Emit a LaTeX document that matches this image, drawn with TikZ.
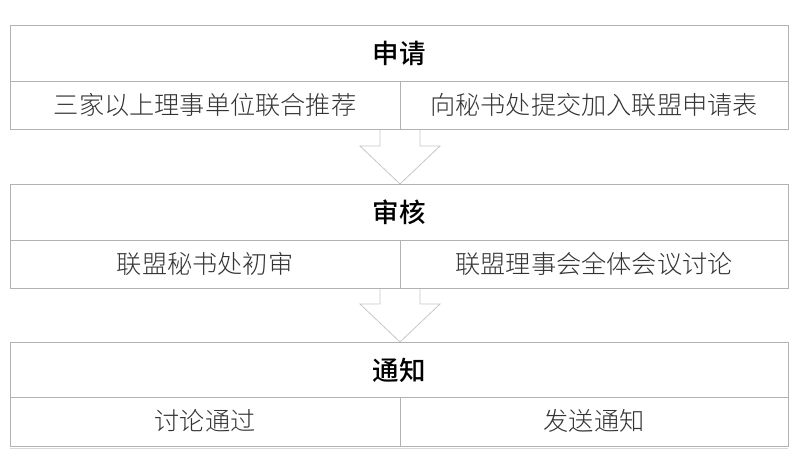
\documentclass[tikz,border=0pt]{standalone}
\usepackage{fontspec}
\newfontfamily\cjk{Noto Sans CJK SC Medium}
\newfontfamily\cjklight{Noto Sans CJK SC Light}
\begin{document}
\begin{tikzpicture}[x=1pt,y=-1pt,
  box/.style={draw=black!30,line width=1pt},
  hdr/.style={font=\cjk\fontsize{26.5}{26.5}\selectfont,text=black},
  itm/.style={font=\cjklight\fontsize{25.2}{25.2}\selectfont,text=black!80},
  arr/.style={draw=black!22,line width=0.8pt,fill=white}]
\useasboundingbox (0,0) rectangle (797,456);
% block 1
\draw[box] (10,25) rectangle (788,129);
\draw[box] (10,81) -- (788,81);
\draw[box] (400,81) -- (400,129);
\node[hdr] (h1) at (399,53) {申请};
\node[itm] (a1) at (205,105) {三家以上理事单位联合推荐};
\node[itm] (b1) at (594,105) {向秘书处提交加入联盟申请表};
% block 2
\draw[box] (10,184) rectangle (788,288);
\draw[box] (10,240) -- (788,240);
\draw[box] (400,240) -- (400,288);
\node[hdr] (h2) at (399,212) {审核};
\node[itm] (a2) at (205,264) {联盟秘书处初审};
\node[itm] (b2) at (594,264) {联盟理事会全体会议讨论};
% block 3
\draw[box] (10,342) rectangle (788,446);
\draw[box] (10,397) -- (788,397);
\draw[box] (400,397) -- (400,446);
\node[hdr] (h3) at (399,370) {通知};
\node[itm] (a3) at (205,421) {讨论通过};
\node[itm] (b3) at (594,421) {发送通知};
\draw[black!15,line width=0.6pt] (10,448) -- (788,448);
% arrows
\coordinate (t1) at (400,184);
\coordinate (t2) at (400,342);
\draw[arr] (380,130) -- (380,146) -- (360,146) -- (t1) -- (440,146) -- (420,146) -- (420,130);
\draw[arr] (380,289) -- (380,304) -- (360,304) -- (t2) -- (440,304) -- (420,304) -- (420,289);
\end{tikzpicture}
\end{document}
